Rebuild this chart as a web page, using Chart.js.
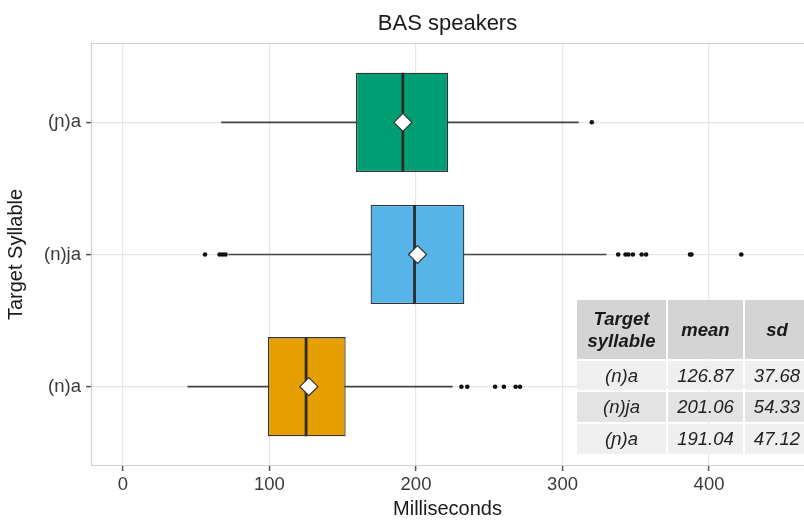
<!DOCTYPE html>
<html>
<head>
<meta charset="utf-8">
<script src="https://cdn.jsdelivr.net/npm/chart.js@4/dist/chart.umd.min.js"></script>
<style>
  html, body { margin: 0; padding: 0; background: #fff; overflow: hidden; }
  #wrap { position: relative; width: 804px; height: 521px; overflow: hidden; }
  canvas { position: absolute; left: 0; top: 0; }
  #tbl {
    position: absolute; left: 577px; top: 300px;
    display: grid;
    grid-template-columns: 89px 75px 64px;
    grid-template-rows: 59px 29px 30px 30px;
    gap: 2px;
    font-family: "Liberation Sans", Arial, sans-serif;
    font-size: 18.5px; font-style: italic; color: #222;
  }
  #tbl div { display: flex; align-items: center; justify-content: center; text-align: center; line-height: 1.15; }
  #tbl .h { background: #d4d4d4; font-weight: bold; color: #1a1a1a; }
  #tbl .odd { background: #efefef; }
  #tbl .even { background: #e3e3e3; }
</style>
</head>
<body>
<div id="wrap">
  <canvas id="c" width="804" height="521"></canvas>
  <div id="tbl"></div>
</div>
<script>
// ---- data (bottom to top on the y axis) ----
const CATEGORIES = ['(n)a', '(n)ja', '(ɲ)a'];
const WHISKER_LOW = [44, 72, 67];
const Q1 = [99, 169, 159];
const MEDIAN = [125, 199, 191];
const Q3 = [152, 233, 222];
const WHISKER_HIGH = [225, 330, 311];
const MEANS = [126.87, 201.06, 191.04];
const SDS = [37.68, 54.33, 47.12];
const OUTLIERS = [
  [231, 235, 254, 260, 268, 271],
  [56, 66, 68, 70, 338, 343, 345, 348, 354, 357, 387, 388, 422],
  [320]
];
const X_TICKS = [0, 100, 200, 300, 400];
// table rows (as printed, top to bottom)
const TABLE_HEAD = ['Target\nsyllable', 'mean', 'sd'];
const TABLE_SYLL = ['(n)a', '(n)ja', '(ɲ)a'];
const TABLE_MEAN = ['126.87', '201.06', '191.04'];
const TABLE_SD = ['37.68', '54.33', '47.12'];

// ---- styling ----
const BOX_COLORS = ['#E69F00', '#56B4E9', '#009E73'];
const BOX_WIDTH = 0.75;
const FONT = '"Liberation Sans", Arial, sans-serif';
const POS = CATEGORIES.map((_, i) => i + 1);

const datasets = [];
// whiskers
POS.forEach((p, i) => {
  datasets.push({
    type: 'line',
    data: [{x: WHISKER_LOW[i], y: p}, {x: WHISKER_HIGH[i], y: p}],
    borderColor: '#444', borderWidth: 1.7, pointRadius: 0, fill: false, order: 5
  });
});
// boxes
datasets.push({
  type: 'bar', indexAxis: 'y',
  data: POS.map((p, i) => ({x: [Q1[i], Q3[i]], y: p})),
  backgroundColor: BOX_COLORS, borderColor: '#333', borderWidth: 1.3,
  borderSkipped: false, barPercentage: BOX_WIDTH, categoryPercentage: 1, order: 4
});
// medians
POS.forEach((p, i) => {
  datasets.push({
    type: 'line',
    data: [{x: MEDIAN[i], y: p - BOX_WIDTH / 2}, {x: MEDIAN[i], y: p + BOX_WIDTH / 2}],
    borderColor: '#2b2b2b', borderWidth: 2.8, pointRadius: 0, fill: false, order: 3
  });
});
// outliers
datasets.push({
  type: 'scatter',
  data: OUTLIERS.flatMap((arr, i) => arr.map(v => ({x: v, y: POS[i]}))),
  pointRadius: 2.3, pointBackgroundColor: '#111', pointBorderWidth: 0, order: 2
});
// means
datasets.push({
  type: 'scatter',
  data: POS.map((p, i) => ({x: MEANS[i], y: p})),
  pointStyle: 'rectRot', pointRadius: 9, pointBackgroundColor: '#fff',
  pointBorderColor: '#333', pointBorderWidth: 1.2, order: 1
});

const panelBorder = {
  id: 'panelBorder',
  afterDraw(chart) {
    const {ctx, chartArea: a} = chart;
    ctx.save();
    ctx.strokeStyle = '#cfcfcf';
    ctx.lineWidth = 1.2;
    ctx.beginPath();
    ctx.moveTo(a.right + 2, a.top + 0.5);
    ctx.lineTo(a.left + 0.5, a.top + 0.5);
    ctx.lineTo(a.left + 0.5, a.bottom - 0.5);
    ctx.lineTo(a.right + 2, a.bottom - 0.5);
    ctx.stroke();
    ctx.restore();
  }
};

new Chart(document.getElementById('c'), {
  type: 'bar',
  data: {datasets},
  plugins: [panelBorder],
  options: {
    responsive: false, animation: false, devicePixelRatio: 1,
    layout: {padding: 0, autoPadding: false},
    plugins: {
      legend: {display: false},
      tooltip: {enabled: false},
      title: {
        display: true, text: 'BAS speakers', fullSize: false,
        color: '#1a1a1a', font: {family: FONT, size: 22, weight: 'normal', lineHeight: 1.2},
        padding: {top: 11, bottom: 5.6}
      }
    },
    scales: {
      x: {
        type: 'linear', min: -21.8, max: 464.8, offset: false, beginAtZero: false,
        afterBuildTicks: s => { s.ticks = X_TICKS.map(v => ({value: v})); },
        afterFit: s => { s.height = 55; s.paddingLeft = 0; s.paddingRight = 0; },
        ticks: {color: '#3a3a3a', font: {family: FONT, size: 18.5}, padding: 3},
        grid: {offset: false, color: '#e6e6e6', lineWidth: 1.2, tickColor: '#555', tickLength: 5, tickWidth: 1.5},
        border: {display: false},
        title: {display: true, text: 'Milliseconds', color: '#1a1a1a',
                font: {family: FONT, size: 20, lineHeight: 1.2}, padding: {top: 2, bottom: 0}}
      },
      y: {
        type: 'linear', min: 0.4, max: 3.6, offset: false, beginAtZero: false,
        afterBuildTicks: s => { s.ticks = POS.map(v => ({value: v})); },
        afterFit: s => { s.width = 91; s.paddingTop = 0; s.paddingBottom = 0; },
        ticks: {color: '#3a3a3a', font: {family: FONT, size: 18.5}, padding: 5,
                callback: v => CATEGORIES[Math.round(v) - 1]},
        grid: {offset: false, color: '#e6e6e6', lineWidth: 1.2, tickColor: '#555', tickLength: 5, tickWidth: 1.5},
        border: {display: false},
        title: {display: true, text: 'Target Syllable', color: '#1a1a1a',
                font: {family: FONT, size: 20, lineHeight: 1.2}, padding: {top: 4.5, bottom: 0}}
      }
    }
  }
});

// table
const tbl = document.getElementById('tbl');
function cell(text, cls) {
  const d = document.createElement('div');
  d.className = cls;
  d.innerText = text;
  tbl.appendChild(d);
}
TABLE_HEAD.forEach(t => cell(t, 'h'));
TABLE_SYLL.forEach((s, i) => {
  const cls = i % 2 === 0 ? 'odd' : 'even';
  cell(s, cls); cell(TABLE_MEAN[i], cls); cell(TABLE_SD[i], cls);
});
</script>
</body>
</html>
